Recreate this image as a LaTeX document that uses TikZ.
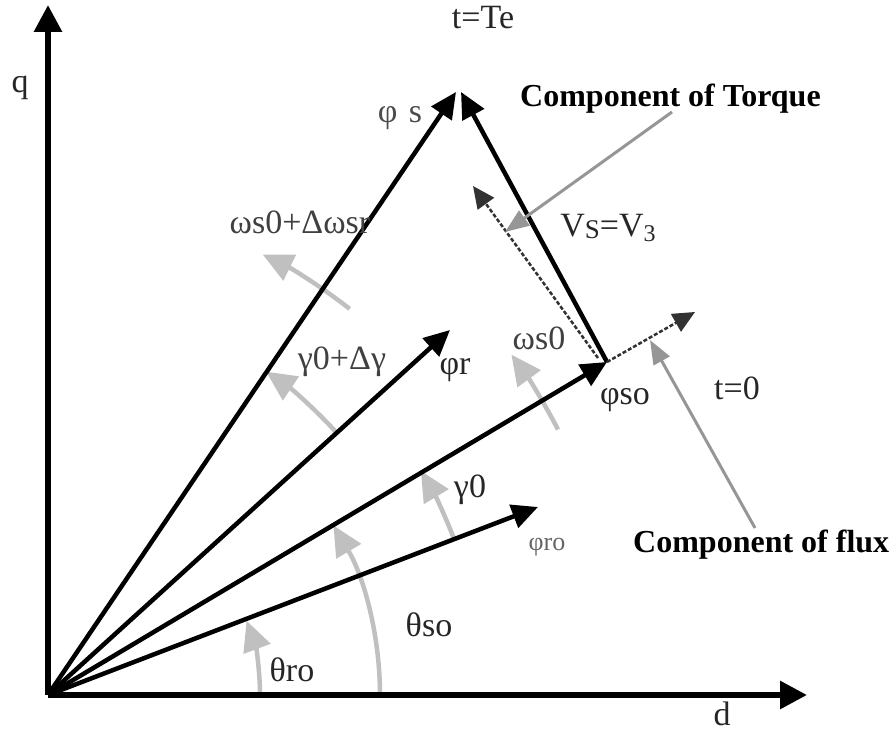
\documentclass[tikz,border=0pt]{standalone}
\usepackage{fontspec}
\setmainfont{Liberation Serif}
\usetikzlibrary{arrows.meta}
\definecolor{arcgray}{RGB}{192,192,192}
\definecolor{pgray}{RGB}{150,150,150}
\definecolor{dgray}{RGB}{50,50,50}
\begin{document}
\begin{tikzpicture}[x=1pt,y=1pt,
  vec/.style={line width=4.5pt, -{Triangle[length=26pt,width=24pt]}},
  axisline/.style={line width=6pt, -{Triangle[length=27pt,width=27pt]}},
  anglearc/.style={draw=arcgray, line width=4.5pt, -{Triangle[length=30pt,width=28pt]}},
  dashvec/.style={draw=dgray, line width=2.5pt, dash pattern=on 4pt off 2pt, -{Triangle[length=22pt,width=20pt]}},
  pointer/.style={draw=pgray, line width=3pt, -{Triangle[length=24pt,width=18pt]}},
  lbl/.style={font=\fontsize{34}{40}\selectfont, text=black!85, inner sep=0pt},
  boldlbl/.style={font=\fontsize{32}{38}\selectfont\bfseries, inner sep=0pt}]
\useasboundingbox (0,0) rectangle (893,733);
% points
\coordinate (O) at (48,38);
\coordinate (Q) at (48,728);
\coordinate (D) at (807,38);
\coordinate (S) at (456,641);
\coordinate (S2) at (461,641);
\coordinate (P) at (607,371);
\coordinate (R) at (450,403);
\coordinate (RO) at (538,226);
\coordinate (T0) at (598,375);
\coordinate (T1) at (473,547);
\coordinate (F1) at (695,421);
\coordinate (TP0) at (672,621);
\coordinate (TP1) at (505,501);
\coordinate (FP0) at (755,205);
\coordinate (FP1) at (650,393);
% angle arcs
\draw[anglearc] ([shift={(0:212)}]O) arc[start angle=0,end angle=20.5,radius=212];
\draw[anglearc] ([shift={(0:332)}]O) arc[start angle=0,end angle=30.7,radius=332];
\draw[anglearc] ([shift={(21:435)}]O) arc[start angle=21,end angle=31,radius=435];
\draw[anglearc] ([shift={(42.5:390)}]O) arc[start angle=42.5,end angle=56,radius=390];
\draw[anglearc] ([shift={(52:490)}]O) arc[start angle=52,end angle=64,radius=490];
\draw[anglearc] ([shift={(27.5:575)}]O) arc[start angle=27.5,end angle=36.3,radius=575];
% axes
\draw[axisline] (O) -- (Q);
\draw[axisline] (O) -- (D);
% vectors
\draw[vec] (O) -- (S);
\draw[vec] (P) -- (S2);
\draw[vec] (O) -- (P);
\draw[vec] (O) -- (R);
\draw[vec] (O) -- (RO);
\draw[dashvec] (P) -- (F1);
\draw[dashvec] (T0) -- (T1);
% pointers
\draw[pointer] (TP0) -- (TP1);
\draw[pointer] (FP0) -- (FP1);
% labels
\node[lbl] (lq) at (20,645) {q};
\node[lbl] (ld) at (722,19) {d};
\node[lbl] (lte) at (483,715) {t=Te};
\node[lbl, text=black!70] (lphis) at (400,615) {φ\,\,s};
\node[boldlbl, anchor=base west] (ltorque) at (520,626) {Component of Torque};
\node[boldlbl, anchor=base west] (lflux) at (633,180) {Component of flux};
\node[lbl] (lvs) at (608,505) {V\raisebox{-2pt}{\fontsize{27}{27}\selectfont S}=V\raisebox{-5pt}{\fontsize{24}{24}\selectfont 3}};
\node[lbl, text=black!75] (lws) at (300,511) {ωs0+Δωsr};
\node[lbl, text=black!75] (lgd) at (342,371) {γ0+Δγ};
\node[lbl] (lphir) at (455,363) {φr};
\node[lbl, text=black!75] (lws0) at (539,395) {ωs0};
\node[lbl] (lphiso) at (625,333) {φso};
\node[lbl] (lt0) at (737,345) {t=0};
\node[lbl] (lg0) at (470,243) {γ0};
\node[lbl, font=\fontsize{26}{30}\selectfont, text=black!60] (lphiro) at (547,186) {φro};
\node[lbl] (ltro) at (292,63) {θro};
\node[lbl] (ltso) at (429,108) {θso};
\end{tikzpicture}
\end{document}
